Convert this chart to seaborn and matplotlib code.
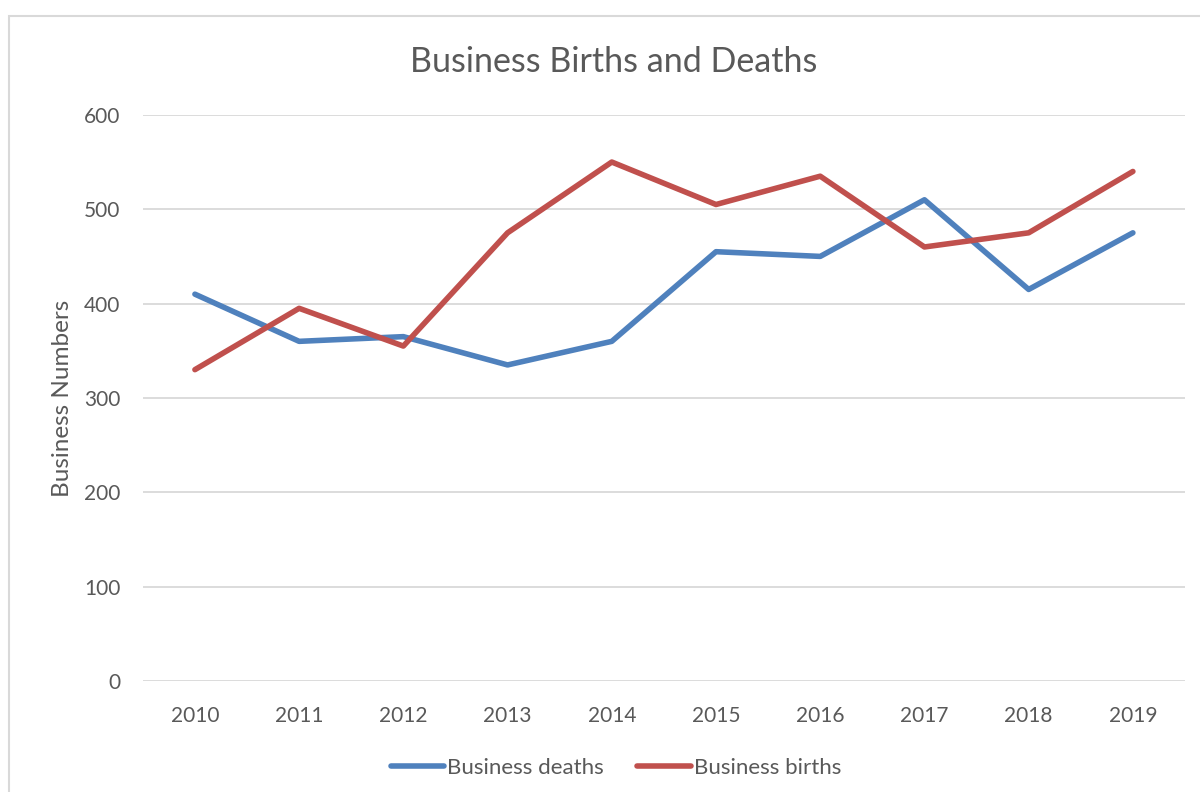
import matplotlib
matplotlib.use("Agg")
import matplotlib.pyplot as plt
from matplotlib.patches import Rectangle
import seaborn as sns
import pandas as pd

years = ["2010", "2011", "2012", "2013", "2014", "2015", "2016", "2017", "2018", "2019"]
deaths = [410, 360, 365, 335, 360, 455, 450, 510, 415, 475]
births = [330, 395, 355, 475, 550, 505, 535, 460, 475, 540]

df = pd.DataFrame({
    "Year": years * 2,
    "Value": deaths + births,
    "Series": ["Business deaths"] * len(years) + ["Business births"] * len(years),
})

sns.set_style("white")
plt.rcParams["font.family"] = ["Lato", "DejaVu Sans"]
txt = "#595959"

fig = plt.figure(figsize=(12, 7.92), dpi=100)
ax = fig.add_axes([0.119, 0.140, 0.8685, 0.715])

sns.lineplot(data=df, x="Year", y="Value", hue="Series",
             palette={"Business deaths": "#4F81BD", "Business births": "#C0504D"},
             linewidth=4, ax=ax, sort=False)
for ln in ax.lines:
    ln.set_solid_capstyle("round")
    ln.set_solid_joinstyle("round")

ax.set_xlim(-0.5, 9.5)
ax.set_ylim(0, 600)
ax.set_yticks(range(0, 601, 100))
ax.yaxis.grid(True, color="#D9D9D9", linewidth=1.3)
ax.set_axisbelow(True)
for s in ax.spines.values():
    s.set_visible(False)
ax.tick_params(axis="both", length=0, labelsize=15, colors=txt)
ax.tick_params(axis="x", pad=18)
ax.tick_params(axis="y", pad=16)
ax.set_xlabel("")
ax.set_ylabel("Business Numbers", fontsize=17.5, color=txt, labelpad=8)
fig.text(0.511, 0.922, "Business Births and Deaths", ha="center", va="center",
         fontsize=24.5, color=txt)

leg = ax.legend(loc="upper center", bbox_to_anchor=(0.454, -0.1), ncol=2, frameon=False,
                fontsize=16, labelcolor=txt, handlelength=2.4, handletextpad=0.15,
                columnspacing=1.5)

fig.patches.append(Rectangle((9 / 1200, -0.05), 1.1, 1 - 16 / 792 + 0.05,
                             transform=fig.transFigure, fill=False,
                             edgecolor="#D9D9D9", linewidth=1.5))

fig.savefig("out.png", dpi=100)
plt.close(fig)
